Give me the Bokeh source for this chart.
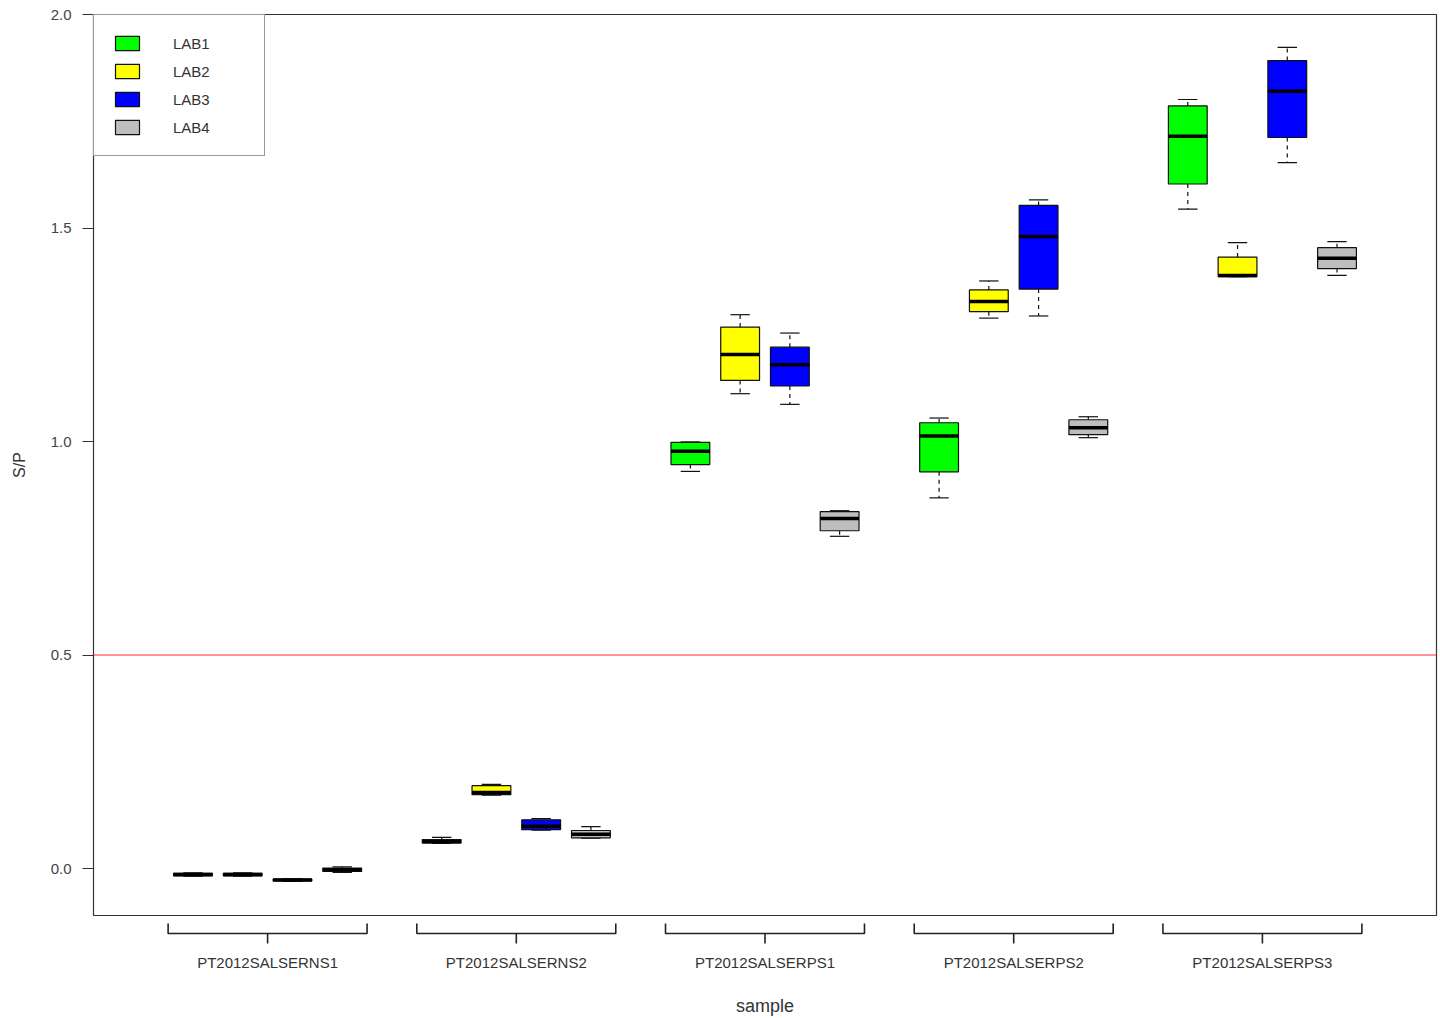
import numpy as np
from bokeh.plotting import figure
from bokeh.models import Range1d, FixedTicker, Span, Legend, LegendItem
from bokeh.layouts import column
from bokeh.embed import file_html
from bokeh.resources import INLINE
from bokeh.core.properties import value

# ---------------- data ----------------
samples = ["PT2012SALSERNS1", "PT2012SALSERNS2", "PT2012SALSERPS1",
           "PT2012SALSERPS2", "PT2012SALSERPS3"]
labs = ["LAB1", "LAB2", "LAB3", "LAB4"]
lab_colors = ["#00ff00", "#ffff00", "#0000ff", "#bebebe"]

lab1_lower = [-0.018, 0.059, 0.930, 0.868, 1.544]
lab1_q1 = [-0.017, 0.060, 0.946, 0.929, 1.603]
lab1_median = [-0.014, 0.063, 0.977, 1.013, 1.715]
lab1_q3 = [-0.011, 0.068, 0.998, 1.044, 1.786]
lab1_upper = [-0.010, 0.073, 0.999, 1.055, 1.801]

lab2_lower = [-0.018, 0.172, 1.112, 1.289, 1.386]
lab2_q1 = [-0.017, 0.173, 1.143, 1.304, 1.386]
lab2_median = [-0.014, 0.178, 1.204, 1.328, 1.389]
lab2_q3 = [-0.011, 0.194, 1.268, 1.355, 1.432]
lab2_upper = [-0.010, 0.197, 1.297, 1.376, 1.466]

lab3_lower = [-0.030, 0.090, 1.087, 1.294, 1.653]
lab3_q1 = [-0.029, 0.091, 1.130, 1.357, 1.712]
lab3_median = [-0.027, 0.099, 1.180, 1.480, 1.820]
lab3_q3 = [-0.025, 0.114, 1.221, 1.553, 1.892]
lab3_upper = [-0.024, 0.117, 1.254, 1.566, 1.923]

lab4_lower = [-0.009, 0.071, 0.778, 1.009, 1.389]
lab4_q1 = [-0.007, 0.072, 0.791, 1.016, 1.405]
lab4_median = [-0.003, 0.080, 0.820, 1.032, 1.429]
lab4_q3 = [0.001, 0.089, 0.836, 1.051, 1.454]
lab4_upper = [0.004, 0.098, 0.838, 1.058, 1.468]

y_ticks = [0.0, 0.5, 1.0, 1.5, 2.0]
cutoff = 0.5

stats = {
    "LAB1": (lab1_lower, lab1_q1, lab1_median, lab1_q3, lab1_upper),
    "LAB2": (lab2_lower, lab2_q1, lab2_median, lab2_q3, lab2_upper),
    "LAB3": (lab3_lower, lab3_q1, lab3_median, lab3_q3, lab3_upper),
    "LAB4": (lab4_lower, lab4_q1, lab4_median, lab4_q3, lab4_upper),
}

# ---------------- style ----------------
FONT = "Liberation Sans"
TEXT = "#333333"
BOX_W = 0.78
CAP_W = 0.39
GROUP_STRIDE = 5  # 4 boxes + 1 empty slot per sample

x_range = Range1d(-1, 26)

p = figure(width=1438, height=917, x_range=x_range, y_range=Range1d(-0.11, 2.0),
           output_backend="svg", toolbar_location=None, x_axis_location=None,
           min_border_left=93, min_border_right=2, min_border_top=14,
           min_border_bottom=2)
p.xgrid.visible = False
p.ygrid.visible = False
p.outline_line_color = "#333333"
p.outline_line_width = 1.2
p.background_fill_color = "white"
p.border_fill_color = "white"

ax = p.yaxis[0]
ax.ticker = FixedTicker(ticks=y_ticks)
ax.major_label_overrides = {t: f"{t:.1f}" for t in y_ticks}
ax.minor_tick_line_color = None
ax.major_tick_in = 0
ax.major_tick_out = 11
ax.major_tick_line_color = "#333333"
ax.axis_line_color = "#333333"
ax.major_label_standoff = 11
ax.major_label_text_font = FONT
ax.major_label_text_font_size = "15px"
ax.major_label_text_color = "#444444"
ax.axis_label = "S/P"
ax.axis_label_text_font = FONT
ax.axis_label_text_font_size = "16px"
ax.axis_label_text_font_style = "normal"
ax.axis_label_text_color = TEXT
ax.axis_label_standoff = 20

p.add_layout(Span(location=cutoff, dimension="width", line_color="#ff2a2a",
                  line_width=1))

items = []
n = len(samples)
for j, lab in enumerate(labs):
    lo, q1, med, q3, hi = [np.array(a, dtype=float) for a in stats[lab]]
    xs = np.arange(n) * GROUP_STRIDE + 1 + j
    # whiskers (dashed)
    p.segment(x0=xs, y0=q3, x1=xs, y1=hi, line_color="#111111", line_width=1.2,
              line_dash="4 4")
    p.segment(x0=xs, y0=q1, x1=xs, y1=lo, line_color="#111111", line_width=1.2,
              line_dash="4 4")
    # caps
    p.segment(x0=xs - CAP_W / 2, y0=hi, x1=xs + CAP_W / 2, y1=hi,
              line_color="#111111", line_width=1.2)
    p.segment(x0=xs - CAP_W / 2, y0=lo, x1=xs + CAP_W / 2, y1=lo,
              line_color="#111111", line_width=1.2)
    # boxes
    r = p.vbar(x=xs, width=BOX_W, bottom=q1, top=q3, fill_color=lab_colors[j],
               line_color="#111111", line_width=1.2)
    # medians
    p.segment(x0=xs - BOX_W / 2, y0=med, x1=xs + BOX_W / 2, y1=med,
              line_color="black", line_width=3.5)
    items.append(LegendItem(label=lab, renderers=[r]))

legend = Legend(items=items, location="top_left", margin=0, padding=18,
                spacing=8, glyph_width=30, glyph_height=18, label_height=20,
                label_width=73, label_standoff=31,
                border_line_color="#333333", border_line_width=1.2,
                background_fill_color="white", background_fill_alpha=1,
                label_text_font=FONT, label_text_font_size="15px",
                label_text_color=TEXT)
p.add_layout(legend)

# ---------------- braces + sample labels ----------------
q = figure(width=1438, height=101, x_range=x_range, y_range=Range1d(101, 0),
           output_backend="svg", toolbar_location=None,
           x_axis_location=None, y_axis_location=None,
           min_border_left=93, min_border_right=2, min_border_top=0,
           min_border_bottom=0)
q.xgrid.visible = False
q.ygrid.visible = False
q.outline_line_color = None
q.background_fill_color = "white"
q.border_fill_color = "white"

HOOK_TOP, BRACE_Y, TICK_BOTTOM, LABEL_Y, TITLE_Y = 6, 16, 26, 44.5, 88
centers = np.arange(n) * GROUP_STRIDE + 2.5
lefts = centers - 2.0
rights = centers + 2.0
brace_xs = [[l, l, r_, r_] for l, r_ in zip(lefts, rights)]
brace_ys = [[HOOK_TOP, BRACE_Y, BRACE_Y, HOOK_TOP] for _ in range(n)]
q.multi_line(xs=brace_xs, ys=brace_ys, line_color="#222222", line_width=1.6)
q.segment(x0=centers, y0=BRACE_Y, x1=centers, y1=TICK_BOTTOM,
          line_color="#222222", line_width=1.6)
q.text(x=centers, y=[LABEL_Y] * n, text=samples, text_align="center",
       text_baseline="middle", text_font=value(FONT), text_font_size="15px",
       text_color=TEXT)
q.text(x=[(x_range.start + x_range.end) / 2], y=[TITLE_Y], text=["sample"],
       text_align="center", text_baseline="middle", text_font=value(FONT),
       text_font_size="18px", text_color=TEXT)

layout = column(p, q, spacing=0)
open("out.html", "w").write(file_html(layout, INLINE))
